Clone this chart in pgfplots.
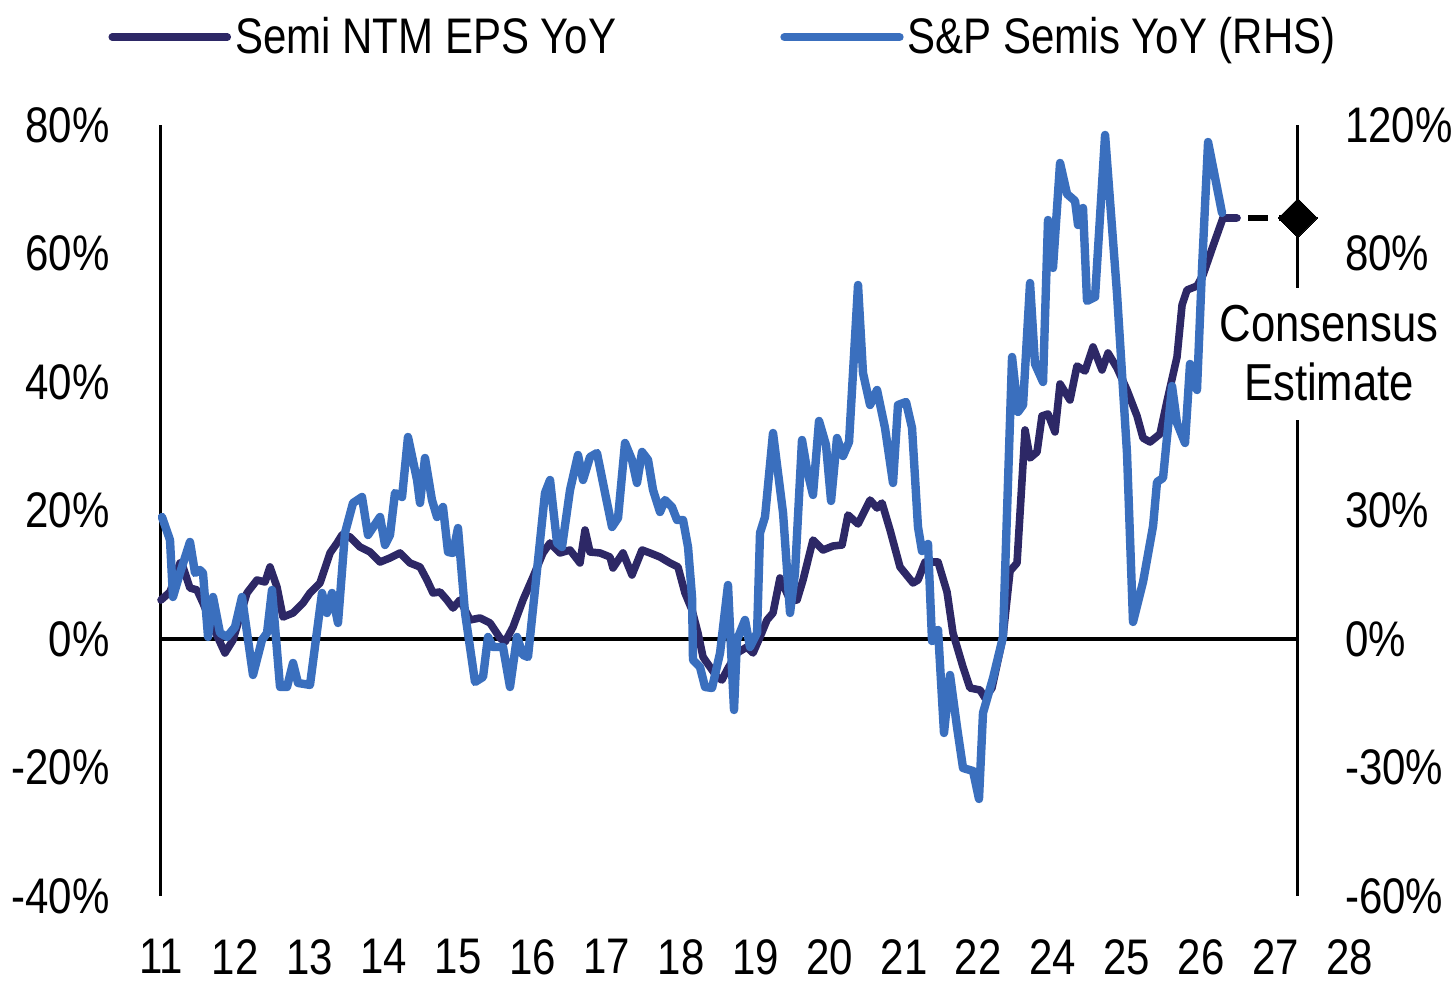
\documentclass[border=0pt]{standalone}
\usepackage{fontspec}
\setmainfont{Liberation Sans}[FakeStretch=0.84]
\usepackage{pgfplots}
\pgfplotsset{compat=1.18}
\definecolor{epsdark}{RGB}{45,40,102}
\definecolor{semiblue}{RGB}{58,111,190}
\newcommand{\bigfont}{\fontsize{25}{29}\selectfont}
\begin{document}
\begin{tikzpicture}
\begin{axis}[
  x=37.15pt, y=3.2125pt,
  xmin=0, xmax=16.3, ymin=-40, ymax=80,
  clip=false,
  axis line style={draw=none},
  major tick length=0pt,
  tick style={draw=none},
  xtick={0,...,16},
  xticklabels={11,12,13,14,15,16,17,18,19,20,21,22,24,25,26,27,28},
  ytick={-40,-20,0,20,40,60,80},
  yticklabels={-40\%,-20\%,0\%,20\%,40\%,60\%,80\%},
  tick label style={font=\bigfont, inner sep=0pt},
  xticklabel style={anchor=north, yshift=-21.5pt},
  yticklabel style={anchor=east, xshift=-25.5pt},
  legend columns=2,
  legend style={draw=none, fill=none, font=\bigfont, at={(0.4649,1.114)}, anchor=center,
     nodes={inner sep=2pt}, /tikz/every even column/.append style={column sep=80pt}},
  legend image code/.code={\draw[#1, line cap=round] (0pt,0pt) -- (57.5pt,0pt);},
]
\path (axis cs:-2.1669,-55.409) rectangle (axis cs:17.429,99.455);
\draw[line width=1.5pt] (axis cs:0,-40) -- (axis cs:0,80);
\draw[line width=1.7pt] (axis cs:0,0) -- (axis cs:15.30,0);
\draw[line width=1.5pt] (axis cs:15.30,-40) -- (axis cs:15.30,34.07);
\draw[line width=1.5pt] (axis cs:15.30,54.63) -- (axis cs:15.30,80);
\addplot[epsdark, line width=3.8pt, line join=round, line cap=round] table {
x y
0.000 6.07
0.121 7.32
0.256 11.83
0.296 11.21
0.390 7.94
0.485 7.63
0.565 5.60
0.700 1.87
0.861 -2.18
0.969 -0.16
1.157 7.16
1.292 9.18
1.400 8.87
1.467 11.21
1.561 8.09
1.642 3.42
1.777 4.05
1.911 5.60
2.005 7.16
2.140 8.72
2.275 13.39
2.369 14.94
2.436 16.19
2.544 15.88
2.678 14.32
2.813 13.54
2.948 11.98
3.082 12.61
3.217 13.39
3.351 11.83
3.486 11.21
3.580 9.18
3.661 7.16
3.755 7.32
3.849 6.07
3.930 4.82
4.024 6.07
4.159 2.96
4.293 3.27
4.428 2.49
4.563 0.16
4.630 -0.47
4.738 1.87
4.872 6.07
5.007 9.65
5.141 13.39
5.236 14.94
5.370 13.39
5.505 13.85
5.639 11.83
5.707 16.96
5.774 13.54
5.908 13.39
6.043 12.76
6.083 11.05
6.218 13.39
6.339 9.96
6.474 13.85
6.581 13.39
6.716 12.76
6.851 11.83
6.958 11.21
7.052 7.16
7.147 4.51
7.227 0.93
7.295 -2.80
7.389 -4.36
7.483 -5.91
7.550 -6.38
7.618 -4.82
7.752 -2.18
7.887 -1.25
7.968 -2.18
8.062 0.31
8.156 2.96
8.237 4.05
8.331 9.49
8.466 6.07
8.560 6.07
8.641 9.18
8.775 15.41
8.910 13.85
9.044 14.47
9.166 14.63
9.246 19.30
9.381 17.90
9.543 21.63
9.637 20.39
9.704 21.17
9.812 16.96
9.946 11.21
10.121 8.72
10.188 9.18
10.283 11.98
10.458 11.98
10.579 7.32
10.659 0.93
10.794 -4.36
10.888 -7.63
11.023 -7.94
11.090 -9.18
11.184 -7.63
11.332 0.31
11.427 10.58
11.521 11.83
11.629 32.53
11.696 28.17
11.790 29.10
11.857 34.71
11.938 35.02
12.032 32.22
12.100 39.69
12.234 37.20
12.328 42.49
12.436 41.71
12.544 45.45
12.665 41.87
12.746 44.51
12.867 42.18
13.001 38.75
13.136 34.71
13.217 31.28
13.311 30.66
13.445 31.91
13.540 37.04
13.674 43.89
13.742 51.98
13.809 54.32
13.943 54.94
14.024 56.65
14.159 61.17
14.293 65.53
14.482 65.53
};
\addlegendentry{Semi NTM EPS YoY}
\addlegendimage{semiblue, line width=4.2pt}
\addlegendentry{S\&P Semis YoY (RHS)}
\addplot[forget plot, black, line width=2.6pt, dash pattern=on 10pt off 5.5pt, dash phase=10pt,
  mark=square*, mark indices={2}, mark size=6.9pt,
  mark options={solid, rotate=45, fill=black, line width=0pt}] coordinates {(14.482,65.53) (15.30,65.53)};
\node[font=\fontsize{26}{29.5}\selectfont, align=center, inner sep=0pt] at (axis cs:15.72,44.51) {Consensus\\Estimate};
\end{axis}
\begin{axis}[
  x=37.15pt, y=2.141667pt,
  xmin=0, xmax=15.30, ymin=-60, ymax=120,
  clip=false,
  axis line style={draw=none},
  major tick length=0pt,
  tick style={draw=none},
  xtick=\empty,
  ytick={-60,-30,0,30,90,120},
  yticklabels={-60\%,-30\%,0\%,30\%,80\%,120\%},
  yticklabel pos=right,
  tick label style={font=\bigfont, inner sep=0pt},
  yticklabel style={anchor=west, xshift=23.5pt},
]
\addplot[semiblue, line width=4.2pt, line join=round, line cap=round] table {
x y
0.013 28.48
0.121 23.11
0.161 9.81
0.256 15.41
0.390 22.65
0.458 15.41
0.525 16.11
0.565 15.41
0.633 0.47
0.700 9.81
0.794 1.40
0.888 0.47
0.996 2.80
1.090 9.81
1.238 -8.40
1.359 -0.23
1.427 1.40
1.494 11.44
1.602 -11.21
1.696 -11.21
1.777 -5.60
1.844 -10.27
2.005 -10.74
2.167 10.74
2.234 6.07
2.301 10.74
2.382 3.74
2.476 24.75
2.584 31.75
2.705 33.15
2.786 24.28
2.948 28.48
3.015 21.95
3.082 24.28
3.149 34.09
3.244 33.15
3.324 47.16
3.446 37.12
3.486 31.75
3.553 42.26
3.647 32.45
3.715 28.48
3.795 30.82
3.863 20.31
3.930 20.08
3.997 25.91
4.092 6.07
4.226 -10.04
4.334 -8.87
4.401 0.47
4.468 -1.87
4.603 -1.87
4.697 -11.21
4.791 0.47
4.872 -3.74
4.939 -4.20
5.061 16.11
5.168 34.09
5.236 37.12
5.330 22.41
5.397 21.48
5.505 34.79
5.612 42.96
5.680 37.12
5.774 42.49
5.868 43.42
5.976 34.09
6.070 26.15
6.151 28.25
6.245 45.76
6.339 41.79
6.406 36.42
6.474 43.66
6.555 41.79
6.622 34.79
6.716 29.65
6.783 32.45
6.877 30.82
6.945 27.78
7.026 27.78
7.093 21.48
7.147 9.81
7.160 -4.90
7.254 -6.54
7.322 -11.21
7.416 -11.44
7.524 -3.27
7.631 12.61
7.685 -7.24
7.712 -16.58
7.752 -0.23
7.860 4.44
7.927 -1.87
8.022 1.40
8.062 24.75
8.129 28.48
8.237 48.09
8.372 29.42
8.466 6.07
8.533 15.41
8.627 46.46
8.695 39.46
8.775 33.62
8.856 50.90
8.950 45.29
9.018 32.22
9.098 46.93
9.179 42.72
9.260 45.99
9.381 82.65
9.448 62.10
9.543 54.63
9.637 58.13
9.744 49.26
9.852 36.42
9.919 54.63
10.027 55.33
10.108 49.26
10.188 26.15
10.242 20.54
10.323 22.18
10.377 -0.47
10.458 2.10
10.538 -21.95
10.619 -8.40
10.713 -20.54
10.794 -30.12
10.929 -30.82
11.009 -37.35
11.063 -17.28
11.198 -9.11
11.332 0.47
11.454 65.84
11.534 53.00
11.602 54.63
11.696 83.11
11.763 64.20
11.871 60.00
11.938 97.82
12.005 86.62
12.100 111.13
12.194 103.89
12.302 102.26
12.342 96.65
12.409 100.62
12.463 78.91
12.571 79.84
12.706 117.67
12.867 80.54
13.001 43.42
13.082 3.97
13.217 13.31
13.352 26.38
13.405 36.65
13.486 37.59
13.607 59.07
13.674 50.43
13.782 45.76
13.849 64.20
13.943 58.13
14.011 86.62
14.092 116.03
14.280 99.46
};
\end{axis}
\end{tikzpicture}
\end{document}
